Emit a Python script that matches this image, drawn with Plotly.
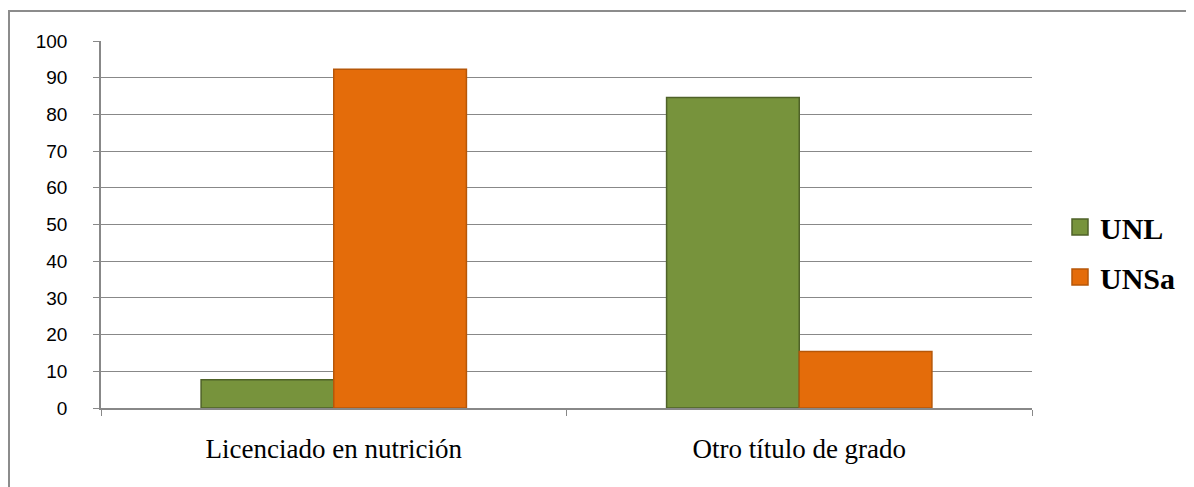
import plotly.graph_objects as go

categories = ["Licenciado en nutrición", "Otro título de grado"]
unl = [7.7, 84.6]
unsa = [92.3, 15.4]
y_ticks = [0, 10, 20, 30, 40, 50, 60, 70, 80, 90, 100]
series_names = ["UNL", "UNSa"]
fills = ["#77933c", "#e46c0a"]
edges = ["#4f6228", "#b65708"]

W, H = 1186, 479
L, R, T, B = 93, 162, 33, 79
PW, PH = W - L - R, H - T - B

fig = go.Figure()
for name, vals, fc, ec in zip(series_names, [unl, unsa], fills, edges):
    fig.add_trace(go.Bar(name=name, x=categories, y=vals, showlegend=False,
                         marker=dict(color=fc, line=dict(color=ec, width=1.5))))
for i, (name, fc, ec) in enumerate(zip(series_names, fills, edges)):
    fig.add_trace(go.Scatter(name=f"<b>{name}</b>", x=[None], y=[None], mode="markers",
                             legendgroup=f"g{i}",
                             marker=dict(symbol="square", size=16, color=fc,
                                         line=dict(color=ec, width=1.5))))

fig.update_layout(
    width=W, height=H,
    margin=dict(l=L, r=R, t=T, b=B),
    paper_bgcolor="white", plot_bgcolor="white",
    barmode="group", bargap=0.43, bargroupgap=0,
    showlegend=True,
    legend=dict(x=(1060 - 8 - L) / PW, y=(400 - 244) / PH, xanchor="left", yanchor="middle",
                font=dict(family="Liberation Serif", size=30, color="black"),
                tracegroupgap=8, itemwidth=30, bgcolor="rgba(0,0,0,0)"),
    xaxis=dict(showline=True, linecolor="#888888", linewidth=1.5,
               ticks="outside", tickson="boundaries", ticklen=6, tickcolor="#888888",
               tickfont=dict(family="Liberation Serif", size=27, color="black"),
               ticklabelstandoff=16),
    yaxis=dict(range=[0, 100], tickvals=y_ticks, showline=True, linecolor="#888888",
               linewidth=1.5, ticks="outside", ticklen=6, tickcolor="#888888",
               showgrid=True, gridcolor="#888888", gridwidth=1.2, zeroline=False,
               tickfont=dict(family="Liberation Sans", size=19, color="black"),
               ticklabelstandoff=22),
    shapes=[dict(type="rect", xref="paper", yref="paper",
                 x0=(1 - L) / PW, x1=(W + 50 - L) / PW, y0=-0.5, y1=(H - B - 3) / PH,
                 line=dict(color="#8c8c8c", width=2), fillcolor="rgba(0,0,0,0)", layer="below")],
    annotations=[dict(text="<i>p</i>", xref="paper", yref="paper",
                      x=(507 - L) / PW, y=(H - B + 2) / PH, xanchor="center", yanchor="bottom",
                      showarrow=False, font=dict(family="Liberation Serif", size=22, color="black"))],
)

fig.write_html("out.html")
